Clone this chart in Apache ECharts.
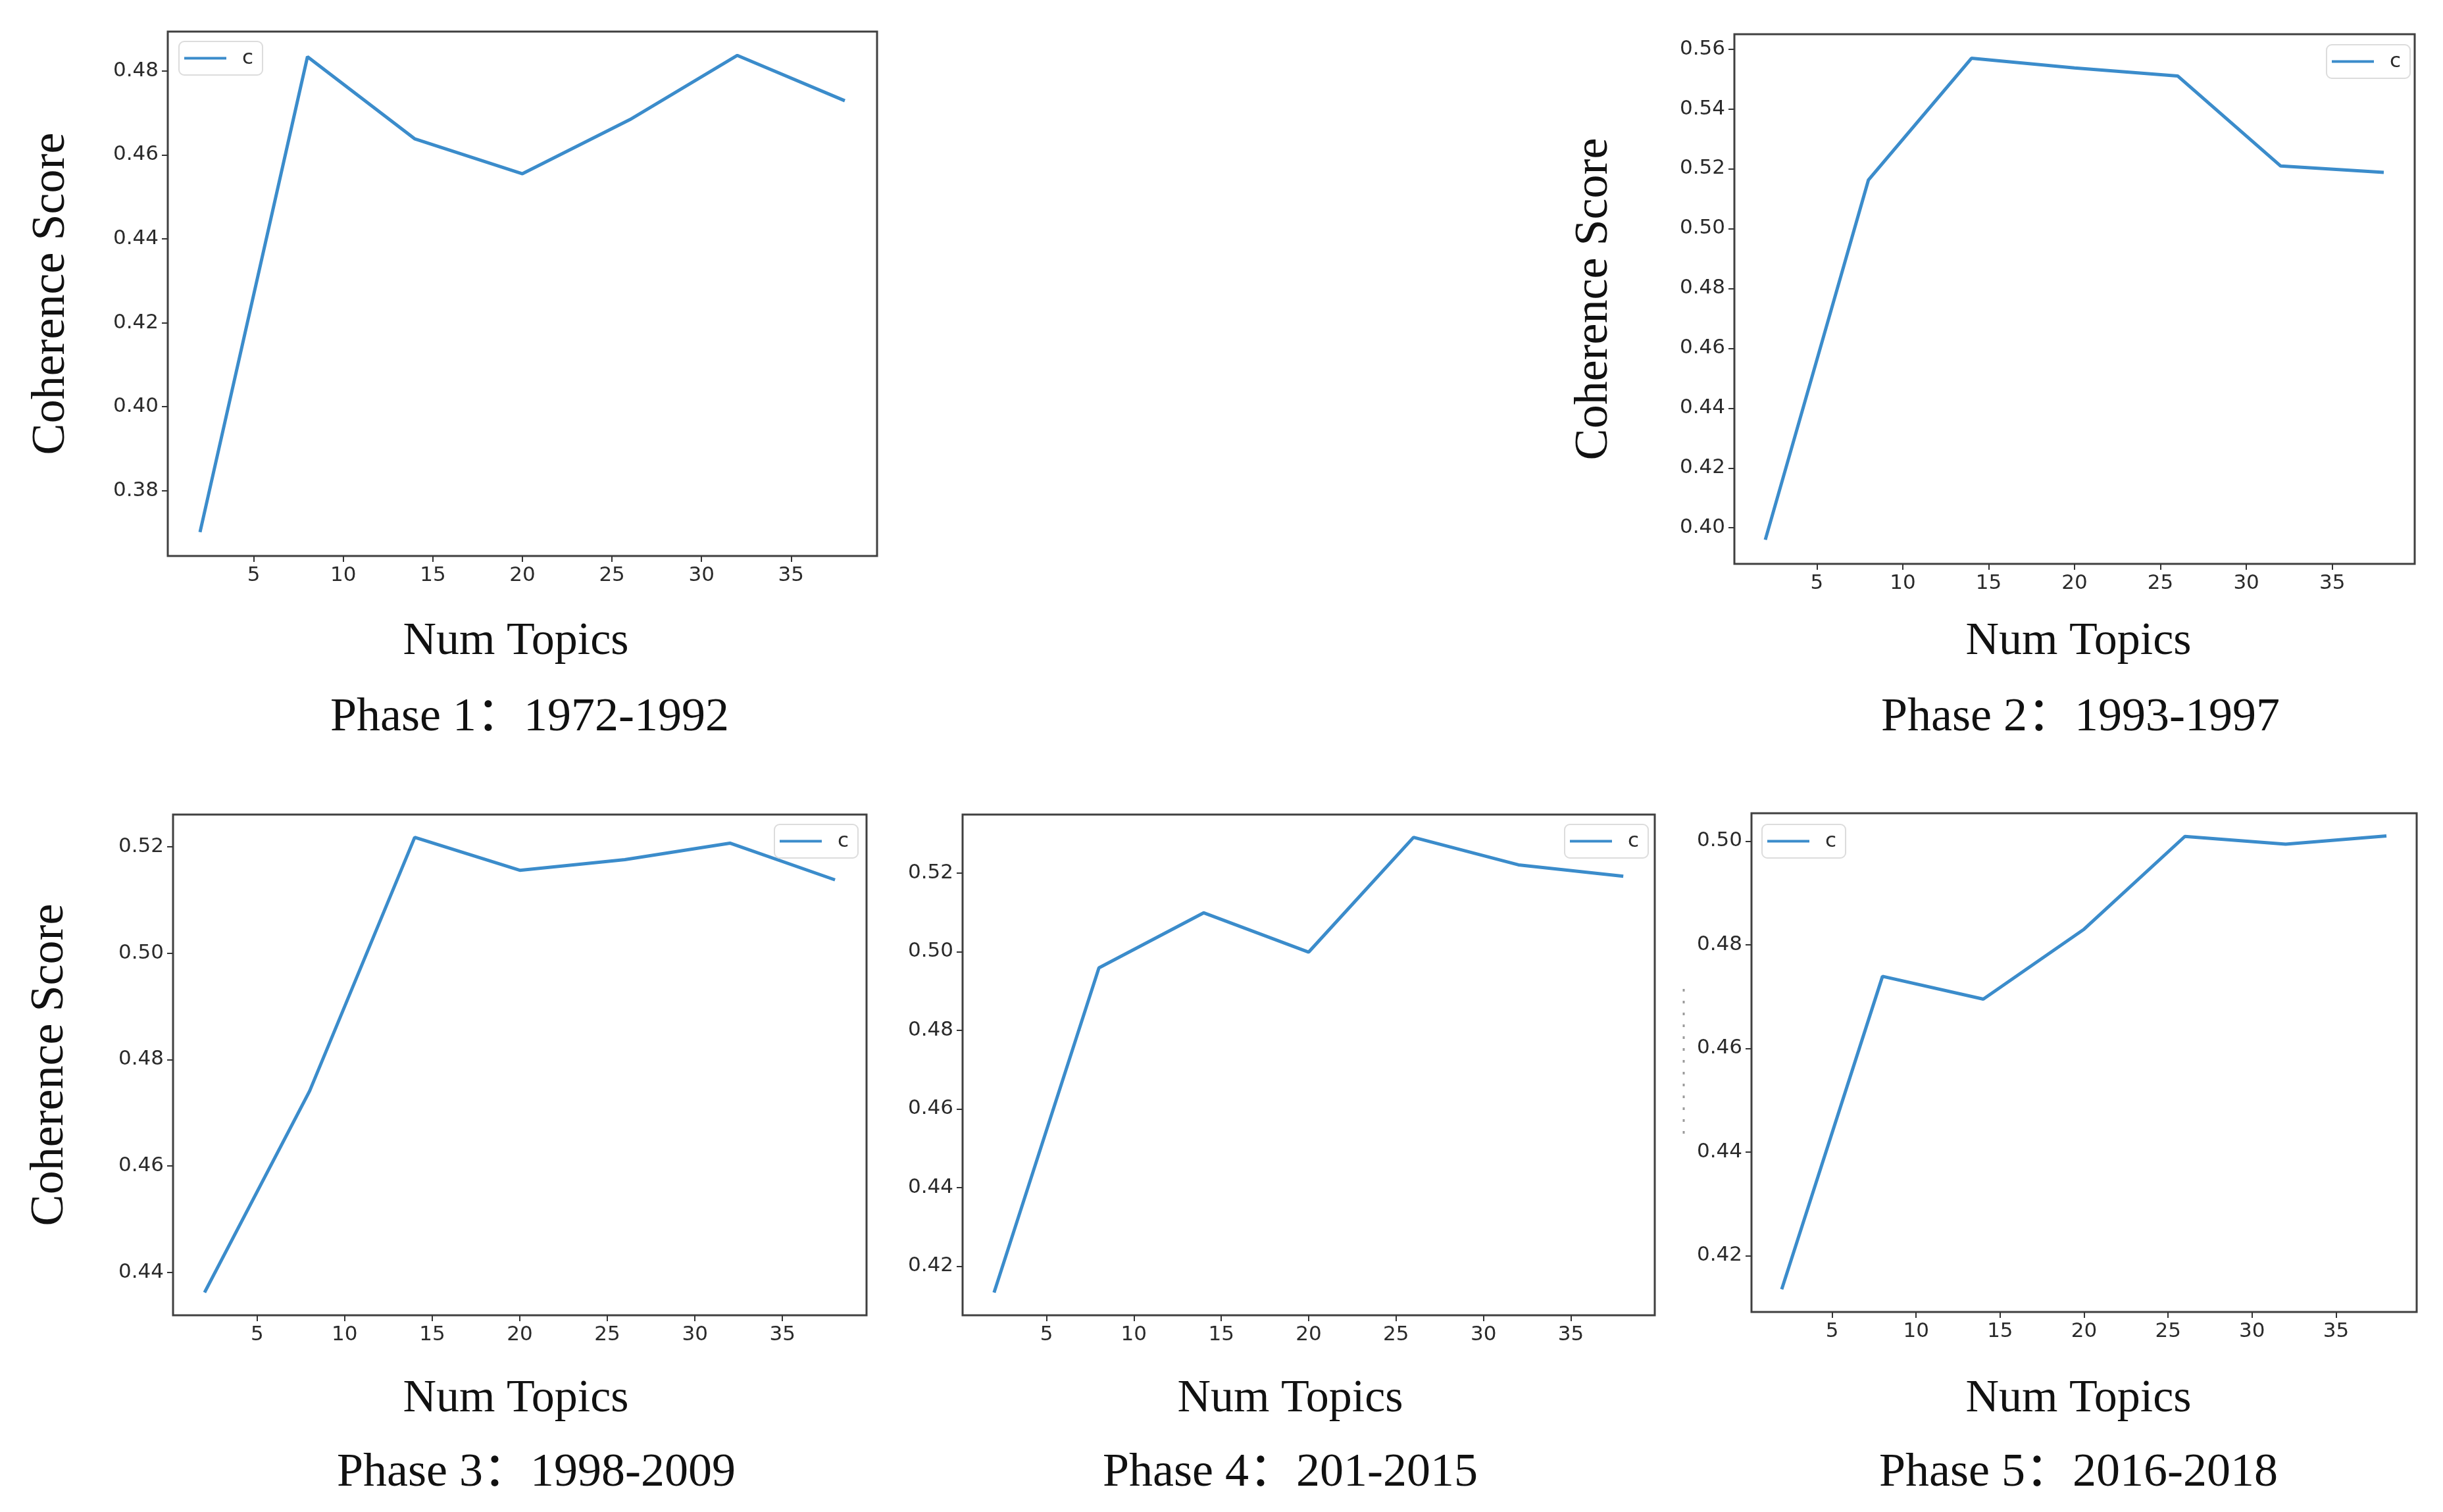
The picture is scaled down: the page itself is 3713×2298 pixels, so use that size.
<!DOCTYPE html>
<html>
<head>
<meta charset="utf-8">
<script src="https://cdn.jsdelivr.net/npm/echarts@6/dist/echarts.min.js"></script>
<style>
html,body{margin:0;padding:0;background:#fff;}
#chart{width:3713px;height:2298px;}
</style>
</head>
<body>
<div id="chart"></div>
<script>
// ---- data ----
const numTopics = [2, 8, 14, 20, 26, 32, 38];
const phase1 = [0.3701, 0.4834, 0.4638, 0.4555, 0.4684, 0.4837, 0.4729];
const phase2 = [0.3960, 0.5162, 0.5569, 0.5537, 0.5510, 0.5209, 0.5188];
const phase3 = [0.4362, 0.4741, 0.5218, 0.5156, 0.5176, 0.5207, 0.5138];
const phase4 = [0.4133, 0.4959, 0.5099, 0.4999, 0.5291, 0.5221, 0.5192];
const phase5 = [0.4135, 0.4739, 0.4695, 0.4830, 0.5009, 0.4994, 0.5010];
const xTicks = [5, 10, 15, 20, 25, 30, 35];
const yTicks1 = [0.38, 0.40, 0.42, 0.44, 0.46, 0.48];
const yTicks2 = [0.40, 0.42, 0.44, 0.46, 0.48, 0.50, 0.52, 0.54, 0.56];
const yTicks3 = [0.44, 0.46, 0.48, 0.50, 0.52];
const yTicks4 = [0.42, 0.44, 0.46, 0.48, 0.50, 0.52];
const yTicks5 = [0.42, 0.44, 0.46, 0.48, 0.50];
const phaseTitles = ['Phase 1：1972-1992', 'Phase 2：1993-1997', 'Phase 3：1998-2009', 'Phase 4：201-2015', 'Phase 5：2016-2018'];
const xName = 'Num Topics';
const yName = 'Coherence Score';
const seriesName = 'c';

// ---- layout ----
const panels = [
  {vals: phase1, ticks: yTicks1, grid: {left: 255, top: 48, width: 1078, height: 797}, yGap: 141, legend: {left: 272, top: 63}, xNameX: 779, xNameY: 936, titleX: 800, titleY: 1050},
  {vals: phase2, ticks: yTicks2, grid: {left: 2636, top: 52, width: 1034, height: 805}, yGap: 177, legend: {left: 3536, top: 68}, xNameX: 3154, xNameY: 936, titleX: 3157, titleY: 1050},
  {vals: phase3, ticks: yTicks3, grid: {left: 263, top: 1238, width: 1054, height: 761}, yGap: 151, legend: {left: 1177, top: 1253}, xNameX: 779, xNameY: 2087, titleX: 810, titleY: 2198},
  {vals: phase4, ticks: yTicks4, grid: {left: 1463, top: 1238, width: 1052, height: 761}, yGap: 0, legend: {left: 2378, top: 1253}, xNameX: 1956, xNameY: 2087, titleX: 1956, titleY: 2198},
  {vals: phase5, ticks: yTicks5, grid: {left: 2662, top: 1236, width: 1011, height: 758}, yGap: 0, legend: {left: 2678, top: 1253}, xNameX: 3154, xNameY: 2087, titleX: 3154, titleY: 2198}
];

const serif = '"Liberation Serif", "Times New Roman", "Noto Sans CJK SC", serif';
const sans = '"DejaVu Sans", sans-serif';
const lineColor = '#3b8ccb';

function range(vals) {
  const mn = Math.min(...vals), mx = Math.max(...vals);
  const m = (mx - mn) * 0.05;
  return [mn - m, mx + m];
}

const grids = [], xAxes = [], yAxes = [], series = [], legends = [], titles = [];
panels.forEach((p, i) => {
  grids.push(Object.assign({show: true, borderColor: '#404040', borderWidth: 3, backgroundColor: '#fff', containLabel: false}, p.grid));
  xAxes.push({
    type: 'value', gridIndex: i, min: 0.2, max: 39.8,
    axisLine: {show: false}, splitLine: {show: false},
    axisTick: {show: true, length: 9, lineStyle: {color: '#333', width: 2}, customValues: xTicks},
    axisLabel: {fontFamily: sans, fontSize: 31, color: '#2a2a2a', margin: 14, customValues: xTicks}
  });
  const r = range(p.vals);
  yAxes.push({
    type: 'value', gridIndex: i, min: r[0], max: r[1],
    name: p.yGap ? yName : '', nameLocation: 'middle', nameGap: p.yGap, nameRotate: 90,
    nameTextStyle: {fontFamily: serif, fontSize: 72, color: '#111'},
    axisLine: {show: false}, splitLine: {show: false},
    axisTick: {show: true, length: 9, lineStyle: {color: '#333', width: 2}, customValues: p.ticks},
    axisLabel: {fontFamily: sans, fontSize: 31, color: '#2a2a2a', margin: 14, customValues: p.ticks, formatter: v => v.toFixed(2)}
  });
  series.push({
    name: seriesName, type: 'line', xAxisIndex: i, yAxisIndex: i,
    data: numTopics.map((x, k) => [x, p.vals[k]]),
    symbol: 'none', lineStyle: {color: lineColor, width: 5}, itemStyle: {color: lineColor},
    animation: false
  });
  legends.push({
    left: p.legend.left, top: p.legend.top, data: [seriesName],
    icon: 'rect', itemWidth: 64, itemHeight: 4, itemGap: 10,
    padding: [10, 14, 10, 8], borderColor: '#dcdcdc', borderWidth: 2, borderRadius: 8,
    backgroundColor: '#fff',
    textStyle: {fontFamily: sans, fontSize: 31, color: '#2a2a2a', padding: [0, 0, 0, 19]},
    selectedMode: false
  });
  titles.push({
    text: xName, left: p.xNameX, top: p.xNameY, textAlign: 'center',
    textStyle: {fontFamily: serif, fontSize: 70, fontWeight: 'normal', color: '#111'}
  });
  titles.push({
    text: phaseTitles[i], left: p.titleX, top: p.titleY, textAlign: 'center',
    textStyle: {fontFamily: serif, fontSize: 72, fontWeight: 'normal', color: '#111'}
  });
});

const chart = echarts.init(document.getElementById('chart'), null, {renderer: 'canvas'});
chart.setOption({
  backgroundColor: '#fff',
  animation: false,
  title: titles,
  legend: legends,
  grid: grids,
  xAxis: xAxes,
  yAxis: yAxes,
  series: series,
  graphic: [{
    type: 'line', shape: {x1: 2559, y1: 1503, x2: 2559, y2: 1730},
    style: {stroke: '#9a9a9a', lineWidth: 3, lineDash: [4, 14]}
  }]
});
</script>
</body>
</html>
